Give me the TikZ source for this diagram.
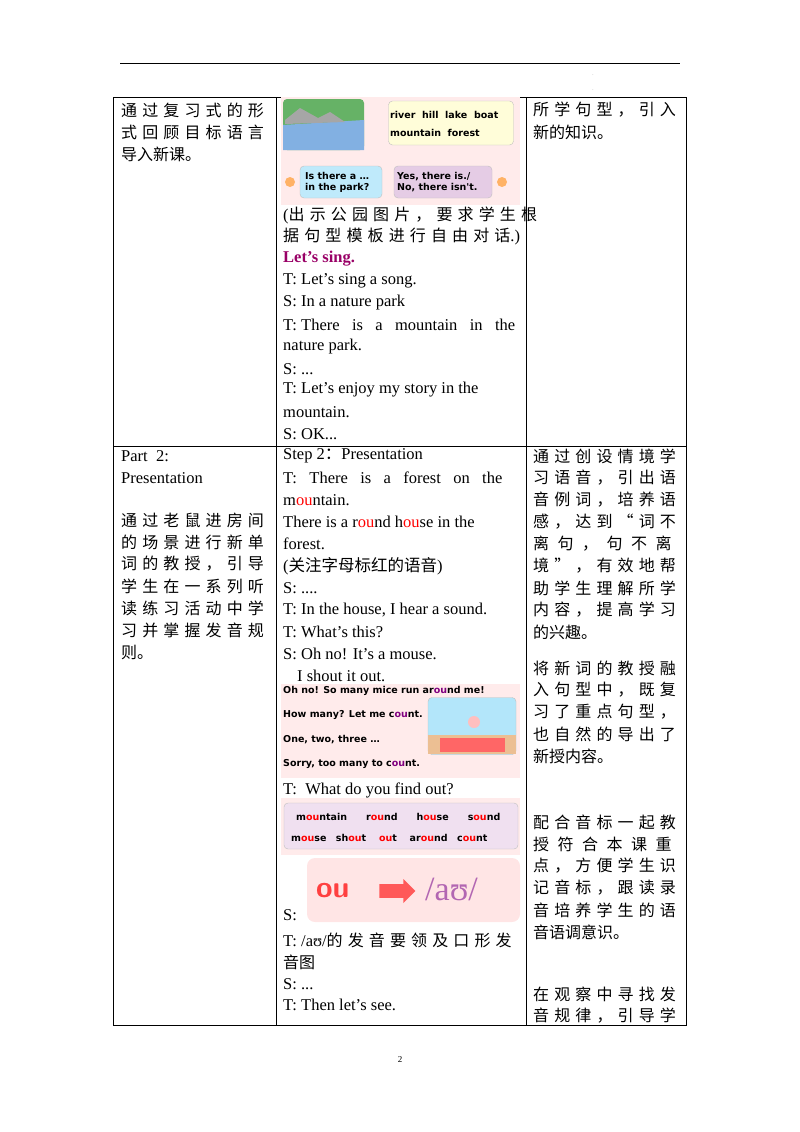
\documentclass[tikz,border=0pt]{standalone}
\usetikzlibrary{shapes.arrows}
\usepackage{fontspec}
\setmainfont{Liberation Serif}
\newfontfamily\cjk{Noto Sans CJK SC}
\newfontfamily\cjj{Noto Sans CJK SC}[LetterSpace=32]
\newfontfamily\cjw{Noto Sans CJK SC}[LetterSpace=53]
\newfontfamily\cs{DejaVu Sans}
\newcommand{\rd}[1]{\textcolor{red}{#1}}
\newcommand{\pu}[1]{\textcolor{violet}{#1}}
\begin{document}
\begin{tikzpicture}[x=1pt,y=-1pt,
  t/.style={anchor=west,inner sep=0pt,font=\fontsize{16.5}{18}\selectfont},
  c/.style={anchor=west,inner sep=0pt,font=\cjk\fontsize{16}{18}\selectfont},
  cj/.style={anchor=west,inner sep=0pt,font=\cjj\fontsize{16}{18}\selectfont},
  s/.style={anchor=west,inner sep=0pt,font=\cs\bfseries\fontsize{9.5}{11}\selectfont},
  box/.style={rounded corners=4pt,draw=gray!50}]
\useasboundingbox (0,0) rectangle (800,1132);
\draw[line width=0.8pt] (120,63) -- (680,63);
\node[font=\tiny,gray] (d1) at (593,75) {.};
\node[font=\tiny,gray] (d2) at (593,90) {.};
% table
\draw[line width=0.8pt] (113,97) rectangle (686,1025);
\draw[line width=0.8pt] (276,97) -- (276,1025) (526,97) -- (526,1025) (113,446) -- (686,446);
% row 1 left
\node[cj] (l1) at (121,110) {通过复习式的形};
\node[cj] (l2) at (121,132) {式回顾目标语言};
\node[c] (l3) at (121,154) {导入新课。};
% row1 right
\node[cj] (r1) at (533,110) {所学句型，引入};
\node[c] (r2) at (533,132) {新的知识。};
% image 1
\fill[red!8] (281,97) rectangle (520,205);
\fill[green!50!black!60,rounded corners=4pt] (283,99) rectangle (364,150);
\fill[cyan!60!blue!50] (283,125) -- (364,120) -- (364,150) -- (283,150) -- cycle;
\fill[gray!70] (285,120) -- (300,108) -- (318,118) -- (330,112) -- (345,122) -- (285,124) -- cycle;
\node[box,fill=yellow!15,minimum width=125pt,minimum height=44pt] (w) at (451,123) {};
\node[s] (w1) at (390,115) {river\ \ hill\ \ lake\ \ boat};
\node[s] (w2) at (390,133) {mountain\ \ forest};
\node[box,fill=cyan!25,minimum width=82pt,minimum height=32pt] (q) at (341,182) {};
\node[s,align=left] (qt) at (305,182) {Is there a …\\in the park?};
\node[box,fill=violet!20,minimum width=98pt,minimum height=32pt] (a) at (443,182) {};
\node[s,align=left] (at) at (397,182) {Yes, there is./\\No, there isn't.};
\fill[orange!60] (290,182) circle (5pt) (502,182) circle (5pt);
% row 1 mid text
\node[t] (m1) at (283,215) {({\cjj\fontsize{16}{18}\selectfont 出示公园图片，要求学生根}};
\node[t] (m2) at (283,237) {{\cjj\fontsize{16}{18}\selectfont 据句型模板进行自由对话}.)};
\node[t,text=violet!80!red,font=\bfseries\fontsize{16.5}{18}\selectfont] (m3) at (283,259) {Let's sing.};
\node[t] (m4) at (283,281) {T: Let's sing a song.};
\node[t] (m5) at (283,303) {S: In a nature park};
\node[t] (m6) at (283,325) {T: There\ \ \ is\ \ \ a\ \ \ mountain\ \ \ in\ \ \ the};
\node[t] (m7) at (283,347) {nature park.};
\node[t] (m8) at (283,369) {S: ...};
\node[t] (m9) at (283,390) {T:\ Let's\ enjoy\ my\ story\ in\ the};
\node[t] (m10) at (283,412) {mountain.};
\node[t] (m11) at (283,434) {S: OK...};
% row 2 left
\node[t] (p1) at (121,456) {Part\ \ 2:};
\node[t] (p2) at (121,478) {Presentation};
\node[cj] (p3) at (121,520) {通过老鼠进房间};
\node[cj] (p4) at (121,542) {的场景进行新单};
\node[cj] (p5) at (121,564) {词的教授，引导};
\node[cj] (p6) at (121,586) {学生在一系列听};
\node[cj] (p7) at (121,608) {读练习活动中学};
\node[cj] (p8) at (121,630) {习并掌握发音规};
\node[c] (p9) at (121,652) {则。};
% row 2 mid
\node[t] (n1) at (283,456) {Step 2{\cjk ：}Presentation};
\node[t] (n2) at (283,478) {T:\ \ \ There\ \ \ is\ \ \ a\ \ \ forest\ \ \ on\ \ \ the};
\node[t] (n3) at (283,500) {m\rd{ou}ntain.};
\node[t] (n4) at (283,522) {There\ is\ a\ r\rd{ou}nd\ h\rd{ou}se\ in\ the};
\node[t] (n5) at (283,544) {forest.};
\node[t] (n6) at (283,566) {({\cjk 关注字母标红的语音})};
\node[t] (n7) at (283,588) {S: ....};
\node[t] (n8) at (283,610) {T: In the house, I hear a sound.};
\node[t] (n9) at (283,632) {T: What's this?};
\node[t] (n10) at (283,654) {S: Oh no! It's a mouse.};
\node[t] (n11) at (297,676) {I shout it out.};
% image 2
\fill[red!8] (281,684) rectangle (520,778);
\node[s] (o1) at (283,691) {Oh no! So many mice run ar\pu{ou}nd me!};
\node[s] (o2) at (283,715) {How many? Let me c\pu{ou}nt.};
\node[s] (o3) at (283,740) {One, two, three …};
\node[s] (o4) at (283,764) {Sorry, too many to c\pu{ou}nt.};
\node[box,fill=cyan!30,minimum width=88pt,minimum height=57pt] (room) at (472,726) {};
\fill[orange!40!brown!50] (428,735) rectangle (516,754);
\fill[red!60] (440,738) rectangle (505,752);
\fill[pink] (474,722) circle (6pt);
\node[t] (n12) at (283,790) {T:\ \ What do you find out?};
% image 3
\fill[red!8] (281,798) rectangle (520,855);
\node[box,fill=violet!12,minimum width=234pt,minimum height=46pt] (wb) at (401,826) {};
\node[s] (u1) at (296,817) {m\rd{ou}ntain\qquad r\rd{ou}nd\qquad h\rd{ou}se\qquad s\rd{ou}nd};
\node[s] (u2) at (291,838) {m\rd{ou}se\quad sh\rd{ou}t\quad\ \rd{ou}t\quad\ ar\rd{ou}nd\quad c\rd{ou}nt};
% image 4
\fill[red!10,rounded corners=8pt] (307,858) rectangle (520,922);
\node[t,font=\sffamily\bfseries\fontsize{30}{30}\selectfont,text=red!75] (ou) at (316,891) {ou};
\node[single arrow,fill=red!65,minimum height=36pt,minimum width=24pt,single arrow head extend=4pt,inner sep=5pt] (ar) at (394,891) {};
\node[t,font=\fontsize{34}{34}\selectfont,text=violet!60] (au) at (425,889) {/aʊ/};
\node[t] (n13) at (283,915) {S:};
\node[t] (n14) at (283,940) {T: /aʊ/{\cjj\fontsize{16}{18}\selectfont 的发音要领及口形发}};
\node[c] (n15) at (283,962) {音图};
\node[t] (n16) at (283,984) {S: ...};
\node[t] (n17) at (283,1005) {T: Then let's see.};
% row 2 right
\node[cj] (q1) at (533,456) {通过创设情境学};
\node[cj] (q2) at (533,478) {习语音，引出语};
\node[cj] (q3) at (533,500) {音例词，培养语};
\node[cj] (q4) at (533,522) {感，达到“词不};
\node[anchor=west,inner sep=0pt,font=\cjw\fontsize{16}{18}\selectfont] (q5) at (533,544) {离句，句不离};
\node[cj] (q6) at (533,566) {境”，有效地帮};
\node[cj] (q7) at (533,588) {助学生理解所学};
\node[cj] (q8) at (533,610) {内容，提高学习};
\node[c] (q9) at (533,632) {的兴趣。};
\node[cj] (q10) at (533,668) {将新词的教授融};
\node[cj] (q11) at (533,690) {入句型中，既复};
\node[cj] (q12) at (533,712) {习了重点句型，};
\node[cj] (q13) at (533,734) {也自然的导出了};
\node[c] (q14) at (533,756) {新授内容。};
\node[cj] (q15) at (533,822) {配合音标一起教};
\node[anchor=west,inner sep=0pt,font=\cjw\fontsize{16}{18}\selectfont] (q16) at (533,844) {授符合本课重};
\node[cj] (q17) at (533,866) {点，方便学生识};
\node[cj] (q18) at (533,888) {记音标，跟读录};
\node[cj] (q19) at (533,910) {音培养学生的语};
\node[c] (q20) at (533,932) {音语调意识。};
\node[cj] (q21) at (533,994) {在观察中寻找发};
\node[cj] (q22) at (533,1016) {音规律，引导学};
\node[font=\fontsize{9}{10}\selectfont] (pg) at (400,1060) {2};
\end{tikzpicture}
\end{document}
